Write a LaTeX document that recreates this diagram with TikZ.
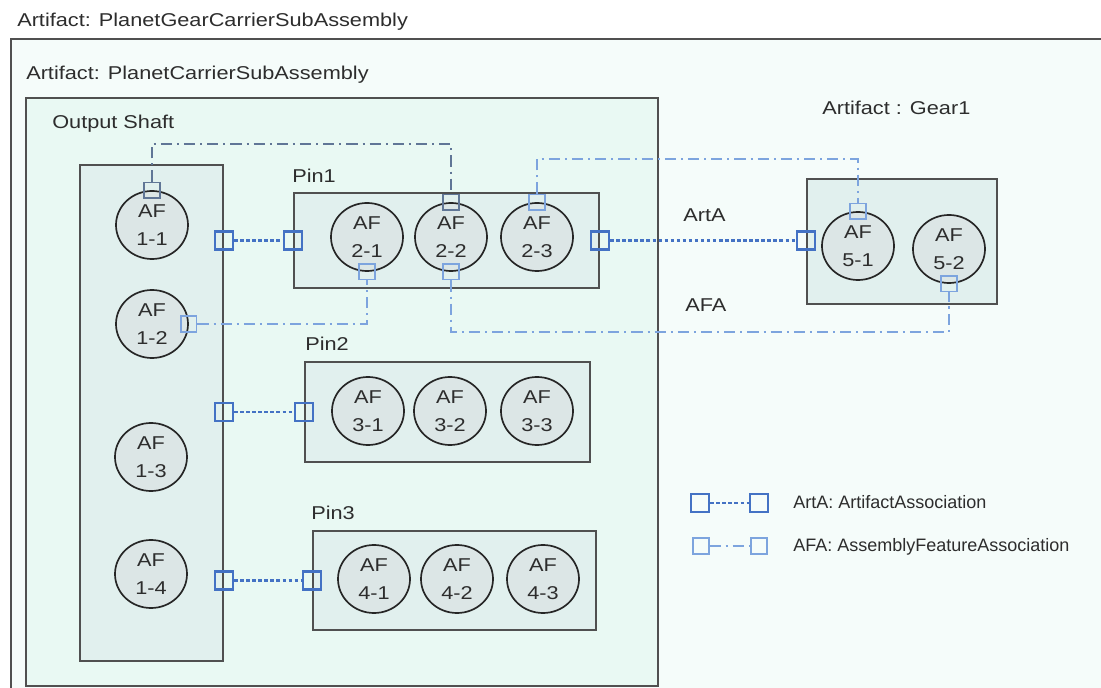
\documentclass[tikz,border=0pt]{standalone}
\usepackage{fontspec}
\setmainfont{Liberation Sans}[FakeStretch=1.17]
\newfontfamily\legendfont{Liberation Sans}
\usepackage{xcolor}
\definecolor{outerbg}{RGB}{245,252,250}
\definecolor{carrierbg}{RGB}{233,249,243}
\definecolor{partbg}{RGB}{225,240,238}
\definecolor{afbg}{RGB}{220,230,230}
\definecolor{edge}{RGB}{80,80,80}
\definecolor{txt}{RGB}{45,45,45}
\definecolor{portblue}{RGB}{68,114,196}
\definecolor{afablue}{RGB}{125,164,222}
\definecolor{slate}{RGB}{96,118,150}
\usetikzlibrary{positioning, shapes.geometric}

\begin{document}
\begin{tikzpicture}[x=0.025cm, y=-0.025cm,
  font=\fontsize{13.2}{19.6}\selectfont, text=txt,
  frame/.style={rectangle, draw=edge, line width=1.3pt, anchor=north west, inner sep=0pt},
  part/.style={frame, fill=partbg},
  af/.style={ellipse, draw=black!85, line width=1.2pt, fill=afbg, align=center, inner sep=0pt, minimum width=1.8cm, minimum height=1.7cm},
  artport/.style={rectangle, draw=portblue, line width=1.8pt, minimum size=0.45cm, inner sep=0pt},
  afaport/.style={rectangle, draw=afablue, line width=1.3pt, minimum size=0.38cm, inner sep=0pt},
  slateport/.style={afaport, draw=slate},
  artline/.style={draw=portblue, line width=2pt, dash pattern=on 2.5pt off 1.8pt},
  afaline/.style={draw=afablue, line width=1.6pt, dash pattern=on 8pt off 3.5pt on 1.5pt off 3.5pt},
  slateline/.style={afaline, draw=slate},
  lbl/.style={anchor=base west, inner sep=0pt}
]
\useasboundingbox (0,0) rectangle (1101,688);
\fill[white] (0,0) rectangle (1101,688);

% containers
\node[frame, fill=outerbg, line width=1.6pt, minimum width=27.4cm, minimum height=16.5cm] (outer) at (10,38) {};
\node[frame, fill=carrierbg, minimum width=15.8cm, minimum height=14.7cm] (carrier) at (25,97) {};
\node[part, minimum width=3.575cm, minimum height=12.4cm] (shaft) at (79,164) {};
\node[part, minimum width=7.625cm, minimum height=2.375cm] (pin1) at (293,192) {};
\node[part, minimum width=7.125cm, minimum height=2.5cm] (pin2) at (304,361) {};
\node[part, minimum width=7.075cm, minimum height=2.475cm] (pin3) at (312,530) {};
\node[part, minimum width=4.75cm, minimum height=3.125cm] (gear) at (806,178) {};

% titles
\node[lbl] (ttlouter) at (17,27) {Artifact: PlanetGearCarrierSubAssembly};
\node[lbl] (ttlcarrier) at (26,80) {Artifact: PlanetCarrierSubAssembly};
\node[lbl] (ttlshaft) at (52,129) {Output Shaft};
\node[lbl] (ttlpin1) at (292,183) {Pin1};
\node[lbl] (ttlpin2) at (305,351) {Pin2};
\node[lbl] (ttlpin3) at (311,520) {Pin3};
\node[lbl] (ttlgear) at (822,115) {Artifact : Gear1};
\node[lbl] (ttlarta) at (683,222) {ArtA};
\node[lbl] (ttlafa) at (685,312) {AFA};

% assembly features
\node[af] (af11) at (152,225) {AF\\1-1};
\node[af] (af12) at (152,324) {AF\\1-2};
\node[af] (af13) at (151,457) {AF\\1-3};
\node[af] (af14) at (151,574) {AF\\1-4};
\node[af] (af21) at (367,237) {AF\\2-1};
\node[af] (af22) at (451,237) {AF\\2-2};
\node[af] (af23) at (537,237) {AF\\2-3};
\node[af] (af31) at (368,411) {AF\\3-1};
\node[af] (af32) at (450,411) {AF\\3-2};
\node[af] (af33) at (537,411) {AF\\3-3};
\node[af] (af41) at (374,579) {AF\\4-1};
\node[af] (af42) at (457,579) {AF\\4-2};
\node[af] (af43) at (543,579) {AF\\4-3};
\node[af] (af51) at (858,246) {AF\\5-1};
\node[af] (af52) at (949,249) {AF\\5-2};

% artifact association ports
\node[artport] (s1) at (shaft.east |- pin1.west) {};
\node[artport] (p1w) at (pin1.west) {};
\node[artport] (s2) at (shaft.east |- pin2.west) {};
\node[artport] (p2w) at (pin2.west) {};
\node[artport] (s3) at (shaft.east |- pin3.west) {};
\node[artport] (p3w) at (pin3.west) {};
\node[artport] (p1e) at (pin1.east) {};
\node[artport] (gw) at (gear.west |- pin1.east) {};

\draw[artline] (s1) -- (p1w);
\draw[artline] (s2) -- (p2w);
\draw[artline] (s3) -- (p3w);
\draw[artline] (p1e) -- (gw);

% assembly feature association ports
\node[slateport] (p11t) at (af11.north) {};
\node[slateport] (p22t) at (af22.north) {};
\node[afaport] (p12e) at (af12.east) {};
\node[afaport] (p21b) at (af21.south) {};
\node[afaport] (p22b) at (af22.south) {};
\node[afaport] (p23t) at (af23.north) {};
\node[afaport] (p51t) at (af51.north) {};
\node[afaport] (p52b) at (af52.south) {};

\coordinate (via1) at (300,144);
\coordinate (via2) at (700,159);
\coordinate (via3) at (700,332);
\draw[slateline] (p11t.north) |- (via1) -| (p22t.north);
\draw[afaline] (p12e.east) -| (p21b.south);
\draw[afaline] (p23t.north) |- (via2) -| (p51t.north);
\draw[afaline] (p22b.south) |- (via3) -| (p52b.south);

% legend
\node[artport] (legart1) at (700,503) {};
\node[artport] (legart2) at (759,503) {};
\draw[artline] (legart1) -- (legart2);
\node[lbl, font=\legendfont\fontsize{12.8}{15}\selectfont] (legarttxt) at (793,509) {ArtA: ArtifactAssociation};
\node[afaport] (legafa1) at (701,546) {};
\node[afaport] (legafa2) at (759,546) {};
\draw[afaline] (legafa1) -- (legafa2);
\node[lbl, font=\legendfont\fontsize{12.8}{15}\selectfont] (legafatxt) at (793,552) {AFA: AssemblyFeatureAssociation};
\end{tikzpicture}
\end{document}
